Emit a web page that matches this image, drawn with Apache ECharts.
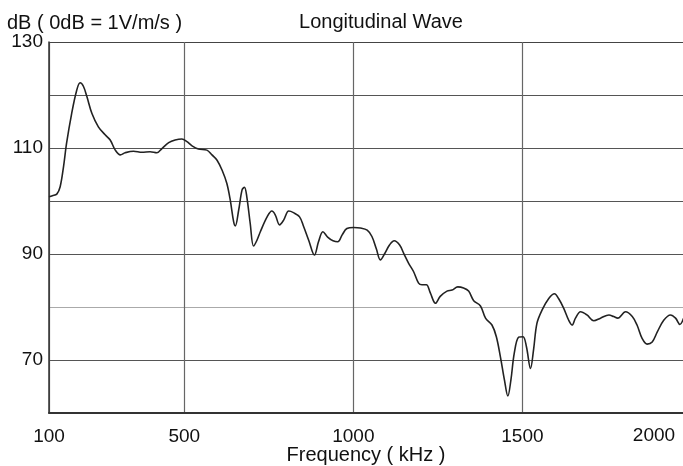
<!DOCTYPE html>
<html>
<head>
<meta charset="utf-8">
<script src="https://cdn.jsdelivr.net/npm/echarts@6/dist/echarts.min.js"></script>
<style>html,body{margin:0;padding:0;background:#fff;}#c{width:683px;height:466px;}</style>
</head>
<body>
<div id="c"></div>
<script>
const freqKHz = [100,110,123,133,143,152,167,182,192,202,212,227,246,266,281,296,311,325,350,375,399,419,434,454,473,493,508,523,542,567,582,597,612,626,636,646,651,661,671,678,685,695,705,715,725,745,759,769,782,794,809,823,841,853,868,885,897,910,924,940,954,967,981,1001,1021,1041,1055,1068,1080,1093,1107,1121,1137,1149,1164,1178,1193,1203,1216,1228,1243,1257,1277,1292,1309,1326,1341,1356,1376,1391,1410,1423,1435,1447,1457,1466,1476,1489,1502,1512,1524,1533,1543,1558,1578,1595,1607,1622,1637,1647,1657,1672,1691,1711,1731,1756,1770,1782,1805,1825,1839,1854,1869,1884,1899,1918,1938,1953,1966,1977];
const levelDB = [100.8,101.0,101.3,102.7,106.5,110.9,116.5,120.9,122.3,121.6,119.7,116.5,114.0,112.5,111.5,109.6,108.7,109.1,109.4,109.2,109.3,109.1,109.9,111.0,111.5,111.7,111.2,110.4,109.8,109.6,108.7,107.7,105.8,103.3,100.2,96.1,95.3,98.3,102.1,102.6,100.8,95.8,91.5,92.6,94.2,97.0,98.1,97.4,95.5,96.4,98.1,97.8,97.0,95.2,92.6,89.8,92.3,94.2,93.2,92.5,92.3,93.6,94.8,95.0,94.9,94.5,93.3,91.0,88.9,90.1,91.7,92.5,91.7,90.1,88.2,86.7,84.5,84.2,84.2,82.6,80.7,82.0,83.0,83.2,83.8,83.6,83.0,81.2,80.2,77.9,76.6,74.4,70.6,66.2,63.2,66.2,71.3,74.3,74.4,72.5,68.4,71.9,76.9,79.4,81.6,82.5,81.6,79.8,77.5,76.6,77.9,79.1,78.5,77.4,77.9,78.5,78.2,77.9,79.1,78.2,76.6,74.1,73.0,73.4,75.3,77.5,78.5,77.9,76.7,77.9];
const xTickValues = [100, 500, 1000, 1500];
const xEdgeLabel = '2000';
const yLabelValues = [70, 90, 110, 130];
const titleText = 'Longitudinal Wave';
const yUnitText = 'dB ( 0dB = 1V/m/s )';
const xNameText = 'Frequency ( kHz )';

const FONT = '"Liberation Sans", Arial, sans-serif';
const chart = echarts.init(document.getElementById('c'));
chart.setOption({
  backgroundColor: '#fff',
  animation: false,
  grid: { left: 49, right: 0, top: 42, bottom: 53, containLabel: false, outerBoundsMode: 'none' },
  title: {
    text: titleText, left: 376, top: 7, textAlign: 'center',
    textStyle: { fontFamily: FONT, fontSize: 20, fontWeight: 'normal', color: '#111' }
  },
  graphic: [
    { type: 'text', left: 7, top: 13, style: { text: yUnitText, font: '20px ' + FONT, fill: '#111' } },
    { type: 'text', x: 654, y: 436, style: { text: xEdgeLabel, font: '19px ' + FONT, fill: '#111', align: 'center', verticalAlign: 'middle' } }
  ],
  xAxis: {
    type: 'value', min: 100, max: 1975,
    name: xNameText, nameLocation: 'middle', nameGap: 32, nameMoveOverlap: false,
    nameTextStyle: { fontFamily: FONT, fontSize: 20, color: '#111' },
    axisLine: { show: true, onZero: false, lineStyle: { color: '#333', width: 2 } },
    axisTick: { show: false, customValues: xTickValues },
    axisLabel: { customValues: xTickValues, fontFamily: FONT, fontSize: 19, color: '#111', margin: 14,
      formatter: v => String(v) },
    splitLine: { show: true, lineStyle: { color: '#666', width: 1.2 } }
  },
  yAxis: {
    type: 'value', min: 60, max: 130, interval: 10,
    axisLine: { show: true, lineStyle: { color: '#333', width: 1.5 } },
    axisTick: { show: false },
    axisLabel: {
      fontFamily: FONT, fontSize: 19, color: '#111', margin: 6,
      formatter: v => yLabelValues.indexOf(v) >= 0 ? String(v) : ''
    },
    splitLine: { show: true, lineStyle: { color: ['#555','#555','#aaa','#555','#555','#555','#555','#444'], width: 1.2 } }
  },
  series: [{
    type: 'line',
    data: freqKHz.map((f, i) => [f, levelDB[i]]),
    showSymbol: false, smooth: 0.35,
    lineStyle: { color: '#222', width: 1.6 },
    clip: true
  }]
});
</script>
</body>
</html>
